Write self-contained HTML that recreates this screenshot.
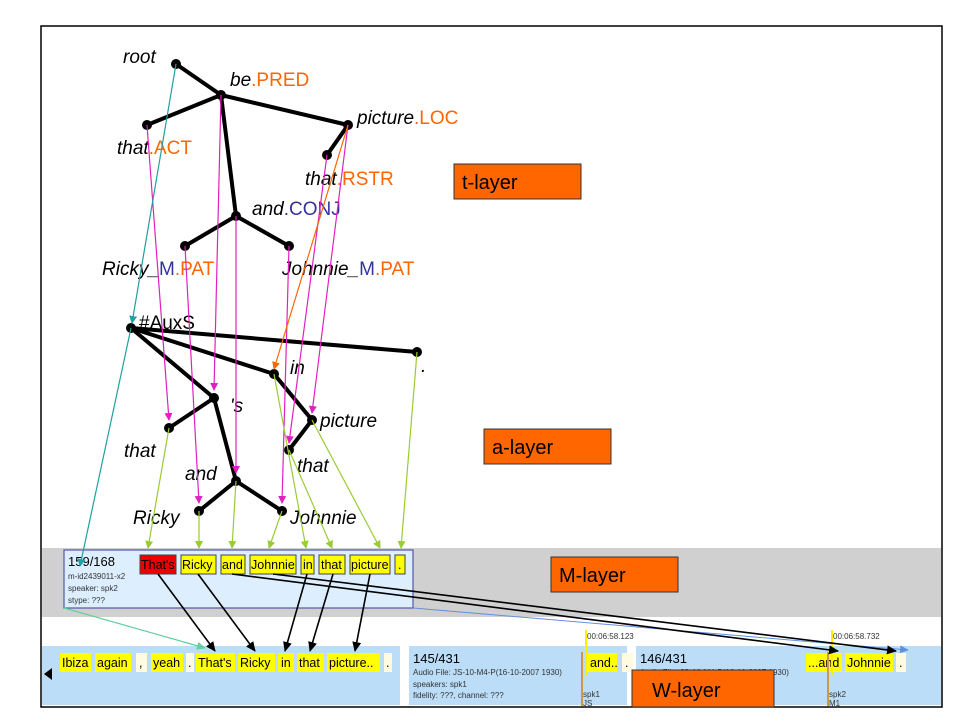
<!DOCTYPE html>
<html><head><meta charset="utf-8"><style>
html,body{margin:0;padding:0;background:#fff;}
svg{display:block;font-family:"Liberation Sans",Arial,sans-serif;}
.it{font-style:italic;font-size:19px;fill:#000;}
.o{fill:#ff6600;font-style:normal;}
.b{fill:#333399;font-style:normal;}
.e{stroke:#000;stroke-width:4;stroke-linecap:round;}
.m{stroke:#e020c0;stroke-width:1.2;marker-end:url(#mm);}
.g{stroke:#99cc33;stroke-width:1.2;marker-end:url(#mg);}
.k{stroke:#000;stroke-width:1.6;marker-end:url(#mk);}
.tk{font-size:12.5px;fill:#000;}
</style></head><body>
<svg width="960" height="720" viewBox="0 0 960 720">
<defs>
<marker id="mm" markerWidth="8" markerHeight="8" refX="7" refY="4" orient="auto" markerUnits="userSpaceOnUse"><path d="M0,0L8,4L0,8z" fill="#e020c0"/></marker>
<marker id="mg" markerWidth="8" markerHeight="8" refX="7" refY="4" orient="auto" markerUnits="userSpaceOnUse"><path d="M0,0L8,4L0,8z" fill="#99cc33"/></marker>
<marker id="mk" markerWidth="10" markerHeight="9" refX="9" refY="4.5" orient="auto" markerUnits="userSpaceOnUse"><path d="M0,0L10,4.5L0,9z" fill="#000"/></marker>
<marker id="mt" markerWidth="8" markerHeight="8" refX="7" refY="4" orient="auto" markerUnits="userSpaceOnUse"><path d="M0,0L8,4L0,8z" fill="#20a0a0"/></marker>
<marker id="mo" markerWidth="8" markerHeight="8" refX="7" refY="4" orient="auto" markerUnits="userSpaceOnUse"><path d="M0,0L8,4L0,8z" fill="#ff6600"/></marker>
<marker id="mb" markerWidth="9" markerHeight="8" refX="8" refY="4" orient="auto" markerUnits="userSpaceOnUse"><path d="M0,0L9,4L0,8z" fill="#6090e0"/></marker>
<marker id="ml" markerWidth="9" markerHeight="8" refX="8" refY="4" orient="auto" markerUnits="userSpaceOnUse"><path d="M0,0L9,4L0,8z" fill="#60d0a0"/></marker>
</defs>
<rect x="41" y="26" width="901" height="681" fill="#fff" stroke="#000" stroke-width="1.5"/>
<rect x="42" y="548" width="899" height="69" fill="#d0d0d0"/>
<rect x="64" y="550" width="349" height="58" fill="#ddeeff" stroke="#5555aa" stroke-width="1.2"/>
<text x="68" y="566" font-size="13" fill="#000">159/168</text>
<text x="68" y="579" font-size="8" fill="#333">m-id2439011-x2</text>
<text x="68" y="591" font-size="8" fill="#333">speaker: spk2</text>
<text x="68" y="603" font-size="8" fill="#333">stype: ???</text>
<g stroke="#444" stroke-width="1">
<rect x="140" y="555" width="36" height="19" fill="#ee0000"/>
<rect x="181" y="555" width="35" height="19" fill="#ffff00"/>
<rect x="221" y="555" width="24" height="19" fill="#ffff00"/>
<rect x="250" y="555" width="46" height="19" fill="#ffff00"/>
<rect x="301" y="555" width="13" height="19" fill="#ffff00"/>
<rect x="319" y="555" width="26" height="19" fill="#ffff00"/>
<rect x="350" y="555" width="40" height="19" fill="#ffff00"/>
<rect x="395" y="555" width="10" height="19" fill="#ffff00"/>
</g>
<g class="tk">
<text x="141" y="569">That's</text><text x="182" y="569">Ricky</text><text x="222" y="569">and</text><text x="251" y="569">Johnnie</text><text x="303" y="569">in</text><text x="321" y="569">that</text><text x="351" y="569">picture</text><text x="398" y="569">.</text>
</g>
<rect x="42" y="646" width="358" height="59" fill="#bbddf8"/>
<rect x="409" y="646" width="218" height="59" fill="#bbddf8"/>
<rect x="636" y="646" width="305" height="59" fill="#bbddf8"/>
<path d="M44,674L52,668L52,680z" fill="#000"/>
<g fill="#ffff00">
<rect x="60" y="653" width="31" height="19"/><rect x="95" y="653" width="36" height="19"/>
<rect x="151" y="653" width="32" height="19"/><rect x="196" y="653" width="39" height="19"/>
<rect x="238" y="653" width="37" height="19"/><rect x="278" y="653" width="16" height="19"/>
<rect x="297" y="653" width="27" height="19"/><rect x="327" y="653" width="53" height="19"/>
<rect x="587" y="653" width="30" height="19"/><rect x="806" y="653" width="36" height="19"/>
<rect x="845" y="653" width="48" height="19"/>
</g>
<g fill="#fffbe0"><rect x="136" y="653" width="11" height="19"/><rect x="186" y="653" width="8" height="19"/><rect x="384" y="653" width="8" height="19"/><rect x="622" y="653" width="11" height="19"/><rect x="896" y="653" width="10" height="19"/></g>
<g class="tk">
<text x="62" y="667">Ibiza</text><text x="97" y="667">again</text><text x="139" y="667">,</text><text x="153" y="667">yeah</text><text x="188" y="667">.</text><text x="198" y="667">That's</text><text x="240" y="667">Ricky</text><text x="281" y="667">in</text><text x="299" y="667">that</text><text x="329" y="667">picture..</text><text x="386" y="667">.</text>
<text x="590" y="667">and..</text><text x="625" y="667">.</text><text x="808" y="667">...and</text><text x="847" y="667">Johnnie</text><text x="899" y="667">.</text>
</g>
<text x="413" y="663" font-size="13">145/431</text>
<text x="413" y="675" font-size="8" fill="#333">Audio File: JS-10-M4-P(16-10-2007 1930)</text>
<text x="413" y="687" font-size="8" fill="#333">speakers: spk1</text>
<text x="413" y="698" font-size="8" fill="#333">fidelity: ???, channel: ???</text>
<text x="640" y="663" font-size="13">146/431</text>
<text x="640" y="675" font-size="8" fill="#333">Audio File: JS-10-M4-P(16-10-2007 1930)</text>
<rect x="585" y="630" width="2" height="45" fill="#ffee00"/><rect x="831" y="630" width="2" height="45" fill="#ffee00"/>
<rect x="581" y="652" width="2" height="54" fill="#cc9944"/><rect x="827" y="652" width="2" height="54" fill="#cc9944"/>
<text x="587" y="639" font-size="8" fill="#333">00:06:58.123</text>
<text x="833" y="639" font-size="8" fill="#333">00:06:58.732</text>
<text x="583" y="697" font-size="8" fill="#333">spk1</text><text x="583" y="706" font-size="8" fill="#333">JS</text>
<text x="829" y="697" font-size="8" fill="#333">spk2</text><text x="829" y="706" font-size="8" fill="#333">M1</text>
<g fill="#ff6600" stroke="#333" stroke-width="1">
<rect x="454" y="164" width="127" height="35"/><rect x="484" y="429" width="127" height="35"/>
<rect x="551" y="557" width="127" height="35"/><rect x="632" y="670" width="142" height="37"/>
</g>
<g font-size="20" fill="#000"><text x="462" y="189">t-layer</text><text x="492" y="454">a-layer</text><text x="559" y="582">M-layer</text><text x="652" y="697">W-layer</text></g>
<g class="e">
<line x1="176" y1="64" x2="221" y2="95"/><line x1="221" y1="95" x2="147" y2="125"/><line x1="221" y1="95" x2="348" y2="125"/>
<line x1="348" y1="125" x2="327" y2="155"/><line x1="221" y1="95" x2="236" y2="216"/><line x1="236" y1="216" x2="185" y2="246"/><line x1="236" y1="216" x2="289" y2="246"/>
<line x1="131" y1="328" x2="417" y2="352"/><line x1="131" y1="328" x2="274" y2="374"/><line x1="131" y1="328" x2="214" y2="398"/>
<line x1="214" y1="398" x2="169" y2="428"/><line x1="214" y1="398" x2="236" y2="481"/><line x1="236" y1="481" x2="199" y2="511"/><line x1="236" y1="481" x2="282" y2="511"/>
<line x1="274" y1="374" x2="312" y2="420"/><line x1="312" y1="420" x2="289" y2="450"/>
</g>
<g fill="#000">
<circle cx="176" cy="64" r="5"/><circle cx="221" cy="95" r="5"/><circle cx="147" cy="125" r="5"/><circle cx="348" cy="125" r="5"/><circle cx="327" cy="155" r="5"/><circle cx="236" cy="216" r="5"/><circle cx="185" cy="246" r="5"/><circle cx="289" cy="246" r="5"/>
<circle cx="131" cy="328" r="5"/><circle cx="417" cy="352" r="5"/><circle cx="274" cy="374" r="5"/><circle cx="214" cy="398" r="5"/><circle cx="169" cy="428" r="5"/><circle cx="312" cy="420" r="5"/><circle cx="289" cy="450" r="5"/><circle cx="236" cy="481" r="5"/><circle cx="199" cy="511" r="5"/><circle cx="282" cy="511" r="5"/>
</g>
<g class="it">
<text x="123" y="63">root</text>
<text x="230" y="86">be<tspan class="o">.PRED</tspan></text>
<text x="117" y="154">that<tspan class="o">.ACT</tspan></text>
<text x="357" y="124">picture<tspan class="o">.LOC</tspan></text>
<text x="305" y="185">that<tspan class="o">.RSTR</tspan></text>
<text x="252" y="215">and<tspan class="b">.CONJ</tspan></text>
<text x="102" y="275">Ricky_<tspan class="b">M</tspan><tspan class="o">.PAT</tspan></text>
<text x="282" y="275">Johnnie_<tspan class="b">M</tspan><tspan class="o">.PAT</tspan></text>
<text x="139" y="329" style="font-style:normal">#AuxS</text>
<text x="290" y="374">in</text><text x="421" y="372">.</text><text x="230" y="412">'s</text>
<text x="124" y="457">that</text><text x="320" y="427">picture</text><text x="297" y="472">that</text>
<text x="185" y="480">and</text><text x="133" y="524">Ricky</text><text x="290" y="524">Johnnie</text>
</g>
<g class="m" fill="none">
<line x1="147" y1="125" x2="169" y2="420"/><line x1="221" y1="95" x2="214" y2="390"/><line x1="236" y1="216" x2="236" y2="473"/>
<line x1="185" y1="246" x2="199" y2="503"/><line x1="289" y1="246" x2="282" y2="503"/><line x1="327" y1="155" x2="289" y2="443"/><line x1="348" y1="125" x2="312" y2="413"/>
</g>
<line x1="348" y1="125" x2="274" y2="369" stroke="#ff6600" stroke-width="1.2" marker-end="url(#mo)"/>
<line x1="176" y1="64" x2="132" y2="323" stroke="#20a0a0" stroke-width="1.2" marker-end="url(#mt)"/>
<line x1="131" y1="328" x2="80" y2="566" stroke="#20a0a0" stroke-width="1.2" marker-end="url(#mt)"/>
<g class="g">
<line x1="169" y1="428" x2="148" y2="548"/><line x1="199" y1="511" x2="199" y2="548"/><line x1="236" y1="481" x2="232" y2="548"/>
<line x1="282" y1="511" x2="269" y2="548"/><line x1="274" y1="374" x2="306" y2="548"/><line x1="289" y1="450" x2="332" y2="548"/>
<line x1="312" y1="420" x2="380" y2="548"/><line x1="417" y1="352" x2="401" y2="548"/>
</g>
<line x1="64" y1="608" x2="205" y2="648" stroke="#60d0a0" stroke-width="1.2" marker-end="url(#ml)"/>
<line x1="413" y1="608" x2="908" y2="650" stroke="#6090e0" stroke-width="1" marker-end="url(#mb)"/>
<g class="k">
<line x1="158" y1="574" x2="215" y2="651"/><line x1="198" y1="574" x2="255" y2="651"/><line x1="307" y1="574" x2="285" y2="651"/>
<line x1="333" y1="574" x2="310" y2="651"/><line x1="370" y1="574" x2="355" y2="651"/>
<line x1="232" y1="574" x2="838" y2="651"/><line x1="273" y1="574" x2="896" y2="651"/>
</g>
</svg>
</body></html>
